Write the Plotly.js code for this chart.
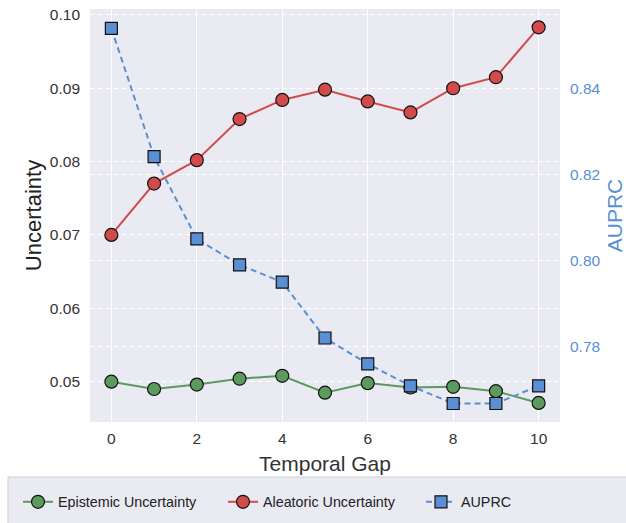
<!DOCTYPE html>
<html>
<head>
<meta charset="utf-8">
<script src="https://cdn.plot.ly/plotly-3.0.1.min.js"></script>
<style>html,body{margin:0;padding:0;background:#fff;}#chart{width:626px;height:523px;}</style>
</head>
<body>
<div id="chart"></div>
<script>
const gaps = [0, 1, 2, 3, 4, 5, 6, 7, 8, 9, 10];
const epistemic = [0.0500, 0.0490, 0.0496, 0.0504, 0.0508, 0.0485, 0.0498, 0.0492, 0.0493, 0.0487, 0.0471];
const aleatoric = [0.0700, 0.0770, 0.0802, 0.0858, 0.0884, 0.0898, 0.0882, 0.0867, 0.0900, 0.0915, 0.0983];
const auprc = [0.8539, 0.8241, 0.8050, 0.7990, 0.7950, 0.7820, 0.7760, 0.7709, 0.7668, 0.7668, 0.7709];

const green = '#5c9a60';
const red = '#d24b4b';
const blue = '#5b8fd3';
const font = 'Liberation Sans, Arial, sans-serif';

const traces = [
  {x: gaps, y: epistemic, name: 'Epistemic Uncertainty', mode: 'lines+markers', yaxis: 'y', legend: 'legend',
   line: {color: green, width: 2},
   marker: {symbol: 'circle', size: 13, color: green, line: {color: '#111', width: 1.2}}},
  {x: gaps, y: aleatoric, name: 'Aleatoric Uncertainty', mode: 'lines+markers', yaxis: 'y', legend: 'legend2',
   line: {color: red, width: 2},
   marker: {symbol: 'circle', size: 13, color: red, line: {color: '#111', width: 1.2}}},
  {x: gaps, y: auprc, name: 'AUPRC', mode: 'lines+markers', yaxis: 'y2', legend: 'legend3',
   line: {color: blue, width: 2, dash: '6px,4px'},
   marker: {symbol: 'square', size: 12, color: blue, line: {color: '#111', width: 1.2}}}
];

function leg(xpx) {
  return {
    orientation: 'h', xref: 'container', yref: 'container', x: xpx / 626, y: 1 - 502 / 523,
    xanchor: 'left', yanchor: 'middle', bgcolor: 'rgba(0,0,0,0)', borderwidth: 0,
    font: {size: 14.3, color: '#222'}
  };
}

const layout = {
  width: 626, height: 523,
  margin: {l: 90, r: 66, t: 9, b: 101},
  paper_bgcolor: '#ffffff',
  plot_bgcolor: '#eaeaf2',
  font: {family: font, color: '#333333', size: 15},
  showlegend: true,
  xaxis: {
    range: [-0.5, 10.5], tickvals: [0, 2, 4, 6, 8, 10], ticks: '', showline: false, zeroline: false,
    gridcolor: '#ffffff', gridwidth: 1.3, tickfont: {size: 15.5, color: '#333'}, ticklabelstandoff: 5,
    title: {text: 'Temporal Gap', font: {size: 21, color: '#333'}, standoff: 10}
  },
  yaxis: {
    range: [0.0445, 0.1008], dtick: 0.01, tick0: 0, tickformat: '.2f', ticks: '', zeroline: false, showline: false,
    gridcolor: '#ffffff', gridwidth: 1, griddash: '5px,3px', tickfont: {size: 15.5, color: '#333'}, ticklabelstandoff: 9,
    title: {text: 'Uncertainty', font: {size: 22, color: '#222'}, standoff: 2}
  },
  yaxis2: {
    overlaying: 'y', side: 'right',
    range: [0.7625, 0.8584], dtick: 0.02, tick0: 0, tickformat: '.2f', ticks: '', zeroline: false, showline: false,
    gridcolor: '#ffffff', gridwidth: 1, griddash: '5px,3px', tickfont: {size: 15.5, color: blue}, ticklabelstandoff: 9,
    title: {text: 'AUPRC', font: {size: 21, color: blue}, standoff: 12}
  },
  legend: leg(18),
  legend2: leg(223),
  legend3: leg(421),
  shapes: [{
    type: 'rect', xref: 'paper', yref: 'paper', layer: 'below',
    x0: (8 - 90) / 470, x1: (640 - 90) / 470, y0: (422 - 477) / 413, y1: (422 - 540) / 413,
    fillcolor: '#eaeaf2', line: {color: '#d0d0d6', width: 1}
  }]
};

Plotly.newPlot('chart', traces, layout, {displayModeBar: false, staticPlot: true});
</script>
</body>
</html>
